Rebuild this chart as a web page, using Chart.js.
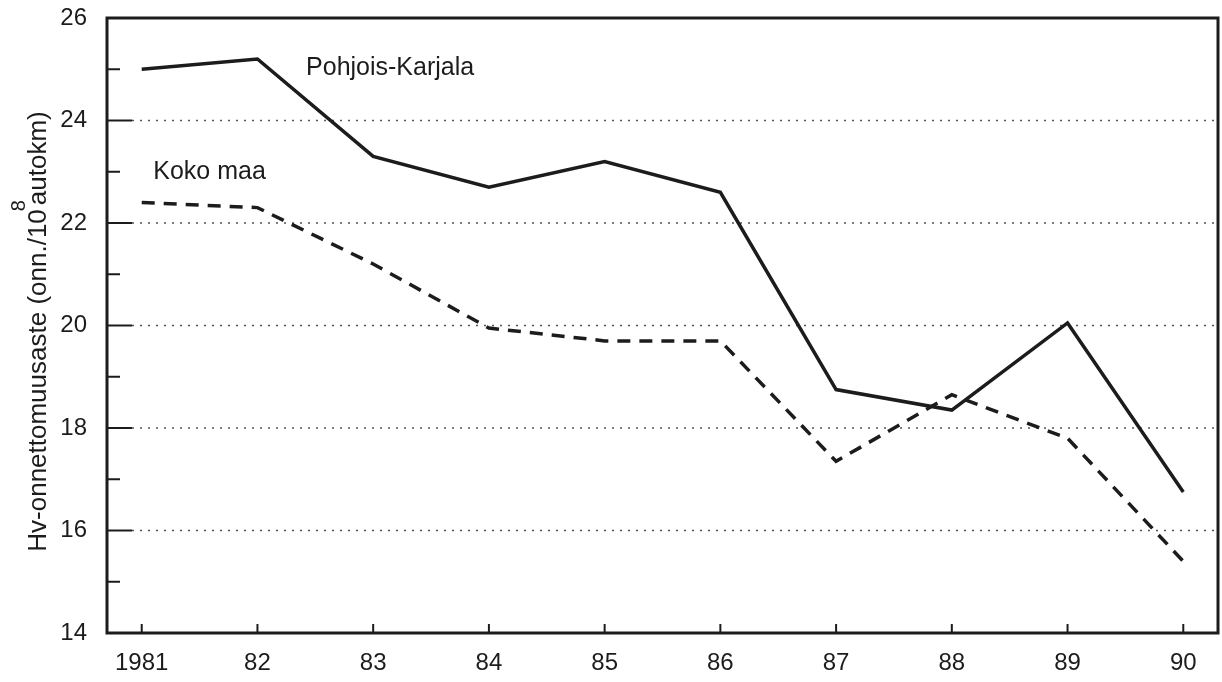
<!DOCTYPE html>
<html>
<head>
<meta charset="utf-8">
<script src="https://cdn.jsdelivr.net/npm/chart.js@4.4.1/dist/chart.umd.min.js"></script>
<style>
  html, body { margin: 0; padding: 0; background: #fff; }
  canvas { display: block; }
</style>
</head>
<body>
<canvas id="accidentChart" width="1222" height="682"></canvas>
<script>
// Chart values
const years = [1981, 1982, 1983, 1984, 1985, 1986, 1987, 1988, 1989, 1990];
const yearLabels = ['1981', '82', '83', '84', '85', '86', '87', '88', '89', '90'];
const pohjoisKarjala = [25.0, 25.2, 23.3, 22.7, 23.2, 22.6, 18.75, 18.35, 20.05, 16.75];
const kokoMaa = [22.4, 22.3, 21.2, 19.95, 19.7, 19.7, 17.35, 18.65, 17.8, 15.4];
const yTicks = [14, 15, 16, 17, 18, 19, 20, 21, 22, 23, 24, 25, 26];
const gridValues = [16, 18, 20, 22, 24];
const seriesNames = ['Pohjois-Karjala', 'Koko maa'];

const FONT = '"Liberation Sans", Arial, Helvetica, sans-serif';
const INK = '#1c1c1c';

// where the two line names sit, in data units
const nameAnchors = [
    { x: 1982.42, y: 24.89 },
    { x: 1981.10, y: 22.86 }
];

const framePlugin = {
    id: 'frame',
    beforeDatasetsDraw(chart) {
        const { ctx, chartArea: a, scales: { y } } = chart;
        ctx.save();
        ctx.strokeStyle = '#555';
        ctx.lineWidth = 1.6;
        ctx.setLineDash([2, 6]);
        gridValues.forEach(v => {
            const py = y.getPixelForValue(v);
            ctx.beginPath();
            ctx.moveTo(a.left + 25, py);
            ctx.lineTo(a.right, py);
            ctx.stroke();
        });
        ctx.restore();
    },
    afterDatasetsDraw(chart) {
        const { ctx, chartArea: a, scales: { x, y } } = chart;
        ctx.save();
        ctx.strokeStyle = INK;

        // inward ticks
        ctx.lineWidth = 2;
        y.ticks.forEach(t => {
            const py = y.getPixelForValue(t.value);
            const len = t.value % 2 === 0 ? 25 : 13;
            ctx.beginPath();
            ctx.moveTo(a.left, py);
            ctx.lineTo(a.left + len, py);
            ctx.stroke();
        });
        x.ticks.forEach(t => {
            const px = x.getPixelForValue(t.value);
            ctx.beginPath();
            ctx.moveTo(px, a.bottom);
            ctx.lineTo(px, a.bottom - 9);
            ctx.stroke();
        });

        // box round the plot
        ctx.lineWidth = 3;
        ctx.strokeRect(a.left, a.top, a.right - a.left, a.bottom - a.top);

        // line names
        ctx.fillStyle = INK;
        ctx.font = '25px ' + FONT;
        ctx.textAlign = 'left';
        ctx.textBaseline = 'alphabetic';
        seriesNames.forEach((name, i) => {
            ctx.fillText(name, x.getPixelForValue(nameAnchors[i].x), y.getPixelForValue(nameAnchors[i].y));
        });

        // rotated y axis title with superscript 8
        const part1 = 'Hv-onnettomuusaste (onn./10';
        const part2 = 'autokm)';
        ctx.font = '26px ' + FONT;
        const w1 = ctx.measureText(part1).width;
        const w2 = ctx.measureText(part2).width;
        const total = w1 + 4 + w2;
        const cy = (a.top + a.bottom) / 2 + 6;
        ctx.translate(46, cy + total / 2);
        ctx.rotate(-Math.PI / 2);
        ctx.fillText(part1, 0, 0);
        ctx.fillText(part2, w1 + 4, 0);
        ctx.font = '20px ' + FONT;
        ctx.fillText('8', w1 - 2, -21);
        ctx.restore();
    }
};

new Chart(document.getElementById('accidentChart'), {
    type: 'line',
    data: {
        datasets: [{
            label: seriesNames[0],
            data: years.map((yr, i) => ({ x: yr, y: pohjoisKarjala[i] })),
            borderColor: INK,
            borderWidth: 3.5,
            borderJoinStyle: 'miter',
            pointRadius: 0,
            tension: 0,
            fill: false
        }, {
            label: seriesNames[1],
            data: years.map((yr, i) => ({ x: yr, y: kokoMaa[i] })),
            borderColor: INK,
            borderWidth: 3.5,
            borderDash: [13, 9],
            pointRadius: 0,
            tension: 0,
            fill: false
        }]
    },
    options: {
        responsive: false,
        animation: false,
        layout: { padding: { top: 18, right: 4, bottom: 0, left: 0 } },
        plugins: {
            legend: { display: false },
            tooltip: { enabled: false }
        },
        scales: {
            x: {
                type: 'linear',
                min: 1980.7,
                max: 1990.3,
                afterBuildTicks: axis => { axis.ticks = years.map(v => ({ value: v })); },
                afterFit: axis => {
                    axis.height = 49;
                    axis.paddingLeft = 0;
                    axis.paddingRight = 0;
                },
                grid: { display: false, drawTicks: false },
                border: { display: false },
                ticks: {
                    callback: v => yearLabels[years.indexOf(v)],
                    color: INK,
                    font: { family: FONT, size: 24 },
                    padding: 16,
                    maxRotation: 0,
                    autoSkip: false
                }
            },
            y: {
                min: 14,
                max: 26,
                afterBuildTicks: axis => { axis.ticks = yTicks.map(v => ({ value: v })); },
                afterFit: axis => {
                    axis.width = 107;
                    axis.paddingTop = 0;
                    axis.paddingBottom = 0;
                },
                grid: { display: false, drawTicks: false },
                border: { display: false },
                ticks: {
                    callback: v => (v % 2 === 0 ? String(v) : ''),
                    color: INK,
                    font: { family: FONT, size: 24 },
                    padding: 20,
                    autoSkip: false
                }
            }
        }
    },
    plugins: [framePlugin]
});
</script>
</body>
</html>
